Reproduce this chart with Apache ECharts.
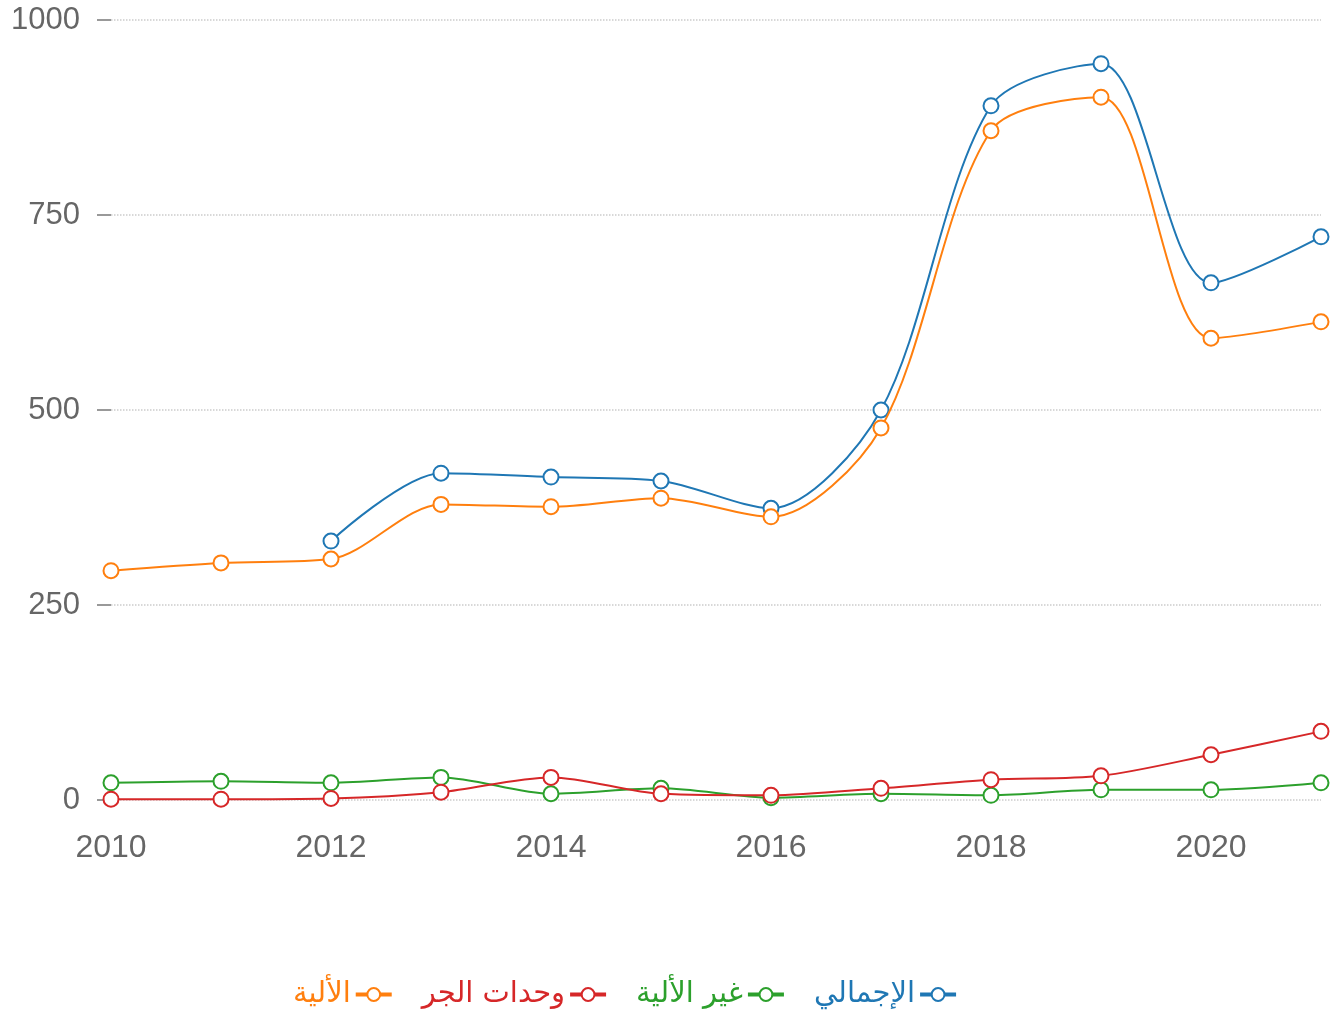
<!DOCTYPE html>
<html><head><meta charset="utf-8">
<script src="https://cdn.jsdelivr.net/npm/echarts@6/dist/echarts.min.js"></script>
<style>html,body{margin:0;padding:0;background:#fff}#c{width:1332px;height:1019px}</style>
</head><body><div id="c"></div>
<script>
var years = ['2010','2011','2012','2013','2014','2015','2016','2017','2018','2019','2020','2021'];
var total = [null, null, 332, 419, 414, 409, 374, 500, 890, 944, 663, 722];
var nonAuto = [22, 24, 22, 29, 8, 15, 3, 8, 6, 13, 13, 22];
var traction = [1, 1, 2, 10, 29, 8, 6, 15, 26, 31, 58, 88];
var auto = [294, 304, 309, 379, 376, 387, 363, 477, 858, 901, 592, 613];
var yTicks = [0, 250, 500, 750, 1000];

var names = ['الإجمالي', 'غير الألية', 'وحدات الجر', 'الألية'];
var colors = ['#1f77b4', '#2ca02c', '#d62728', '#ff7f0e'];
var datas = [total, nonAuto, traction, auto];

function mk(i) {
  return {
    name: names[i], type: 'line', smooth: 0.3, data: datas[i],
    symbol: 'emptyCircle', symbolSize: 15, connectNulls: false,
    itemStyle: { color: colors[i], borderWidth: 2 },
    lineStyle: { color: colors[i], width: 2 },
    z: 2 + i
  };
}

var chart = echarts.init(document.getElementById('c'));
chart.setOption({
  animation: false,
  grid: { left: 111, right: 11, top: 20, bottom: 219, containLabel: false },
  legend: {
    top: 975, left: 288, align: 'right', itemGap: 28, itemWidth: 36, itemHeight: 16,
    lineStyle: { width: 4 },
    itemStyle: { borderWidth: 3 },
    data: [names[3], names[2], names[1], names[0]].map(function (n) {
      var idx = names.indexOf(n);
      return { name: n, textStyle: { color: colors[idx] } };
    }),
    textStyle: { fontSize: 29, fontFamily: 'DejaVu Sans' }
  },
  xAxis: {
    type: 'category', data: years, boundaryGap: false,
    axisLine: { show: false }, axisTick: { show: false },
    axisLabel: { interval: 1, margin: 32, fontSize: 32, color: '#666', fontFamily: 'Liberation Sans' },
    splitLine: { show: false }
  },
  yAxis: {
    type: 'value', min: yTicks[0], max: yTicks[yTicks.length - 1], interval: 250,
    axisLine: { show: false },
    axisTick: { show: true, length: 14, lineStyle: { color: '#999', width: 2 } },
    axisLabel: { margin: 31, fontSize: 31, color: '#666', fontFamily: 'Liberation Sans',
      formatter: function (v) { return String(v); } },
    splitLine: { show: true, lineStyle: { color: '#ccc', type: 'dotted', width: 1.5 } }
  },
  series: [mk(0), mk(1), mk(2), mk(3)]
});
</script></body></html>
